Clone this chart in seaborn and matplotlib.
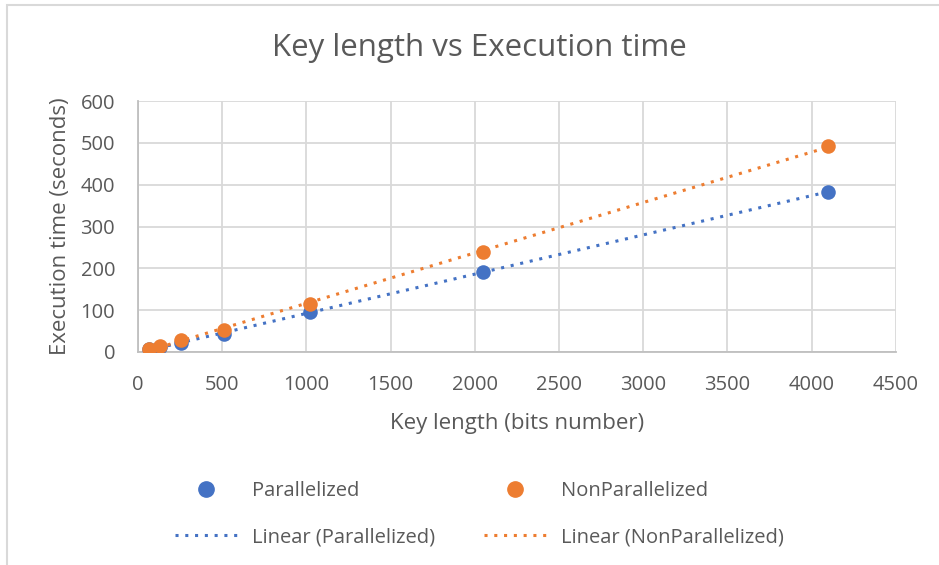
import pandas as pd
import seaborn as sns
import matplotlib.pyplot as plt
from matplotlib.patches import Rectangle

key_bits = [64, 128, 256, 512, 1024, 2048, 4096]
parallel_time = [6, 12, 22, 42, 96, 191, 383]
nonparallel_time = [8, 15, 28, 53, 115, 239, 493]

blue = '#4472C4'
orange = '#ED7D31'
text_col = '#595959'
grid_col = '#D9D9D9'

df = pd.DataFrame({'Key': key_bits,
                   'Parallelized': parallel_time,
                   'NonParallelized': nonparallel_time})

sns.set_theme(style="white")
plt.rcParams['font.family'] = ['Open Sans', 'DejaVu Sans']

fig = plt.figure(figsize=(9.39, 5.65), dpi=100)
ax = fig.add_axes([0.147, 0.377, 0.807, 0.444])

# chart border (left and top edges visible in the crop)
fig.patches.append(Rectangle((0.0075, -0.1), 1.2, 1.1 - 5 / 565, transform=fig.transFigure,
                             fill=False, edgecolor='#D9D9D9', linewidth=1.5))

dots = (0, (1, 2.2))
for col, color in [('Parallelized', blue), ('NonParallelized', orange)]:
    sns.scatterplot(data=df, x='Key', y=col, ax=ax, color=color, s=110,
                    edgecolor=color, linewidth=0, zorder=4)
    sns.regplot(data=df, x='Key', y=col, ax=ax, scatter=False, ci=None,
                line_kws={'color': color, 'linestyle': dots, 'linewidth': 2.2, 'zorder': 3})

ax.set_xlim(0, 4500)
ax.set_ylim(0, 600)
ax.set_xticks(range(0, 4501, 500))
ax.set_yticks(range(0, 601, 100))
ax.grid(True, color=grid_col, linewidth=1.3)
ax.set_axisbelow(True)
for side in ['top', 'right']:
    ax.spines[side].set_visible(False)
for side in ['left', 'bottom']:
    ax.spines[side].set_color('#BFBFBF')
    ax.spines[side].set_linewidth(1.3)
ax.tick_params(axis='x', length=0, labelsize=14.5, labelcolor=text_col, pad=16.5)
ax.tick_params(axis='y', length=0, labelsize=14.5, labelcolor=text_col, pad=16.5)

fig.text(479 / 939, 1 - 48 / 565, 'Key length vs Execution time', fontsize=22.5,
         color=text_col, ha='center', va='center')
ax.set_xlabel('Key length (bits number)', fontsize=16, color=text_col, labelpad=13)
ax.set_ylabel('Execution time (seconds)', fontsize=16, color=text_col, labelpad=7)

h_p = plt.Line2D([], [], marker='o', color=blue, linestyle='none', markersize=11)
h_n = plt.Line2D([], [], marker='o', color=orange, linestyle='none', markersize=11)
h_lp = plt.Line2D([], [], color=blue, linestyle=dots, linewidth=2.2)
h_ln = plt.Line2D([], [], color=orange, linestyle=dots, linewidth=2.2)
leg = fig.legend([h_p, h_lp, h_n, h_ln],
                 ['Parallelized', 'Linear (Parallelized)', 'NonParallelized', 'Linear (NonParallelized)'],
                 ncol=2, loc='center left', bbox_to_anchor=(165 / 939, 0.090), frameon=False,
                 borderpad=0, fontsize=14.5, handlelength=3.1, handletextpad=0.7,
                 columnspacing=2.45, labelspacing=1.3)
for t in leg.get_texts():
    t.set_color(text_col)

fig.savefig('out.png', dpi=100)
